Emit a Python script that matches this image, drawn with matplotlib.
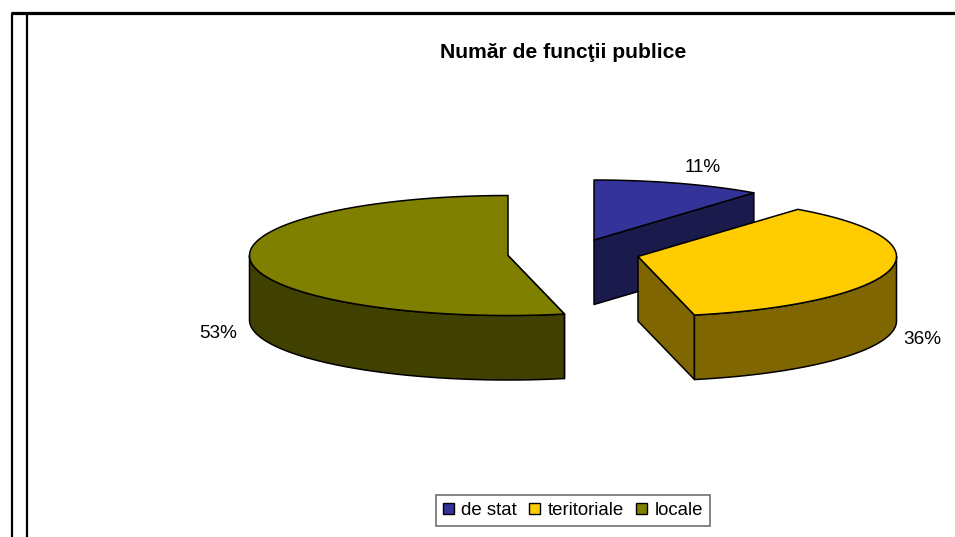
#!/usr/bin/env python3
"""Exploded 3D-look pie: number of public offices by category."""

import matplotlib
matplotlib.use('Agg')
import matplotlib.pyplot as plt
from matplotlib.patches import Patch, Polygon
import numpy as np

plt.rcParams['font.family'] = ['Liberation Sans', 'DejaVu Sans']

title = 'Număr de funcţii publice'
categories = ['de stat', 'teritoriale', 'locale']
values = [10.6, 35.85, 53.45]

top_colors = ['#333399', '#FFCC00', '#808000']
side_colors = ['#1A1A4D', '#806600', '#404000']

# layout, all in image pixels
centers = [(594, 240), (638, 256.5), (508, 255.5)]
label_pos = [(703, 167), (922, 339), (218, 333)]
RX, RY, DEPTH = 258.5, 60, 64.5
LW = 1.1

fig = plt.figure(figsize=(9.55, 5.37), dpi=100)
ax = fig.add_axes([0, 0, 1, 1])
ax.set_xlim(0, 955)
ax.set_ylim(537, 0)
ax.axis('off')


def arc(cx, cy, a0, a1):
    """Points on the rim, angles in degrees clockwise from 12 o'clock."""
    t = np.radians(np.linspace(a0, a1, 120))
    return np.column_stack([cx + RX * np.sin(t), cy - RY * np.cos(t)])


def draw_face(pts, color, z):
    ax.add_patch(Polygon(pts, closed=True, facecolor=color, edgecolor='black',
                         lw=LW, joinstyle='round', zorder=z))


# page frame
ax.plot([12, 12], [537, 12.5], color='black', lw=1.6, solid_capstyle='butt', zorder=1)
ax.plot([26.7, 26.7], [537, 12.5], color='black', lw=1.6, solid_capstyle='butt', zorder=1)
ax.plot([11, 955], [12.5, 12.5], color='black', lw=2.3, solid_capstyle='butt', zorder=1)

shares = np.array(values) / sum(values) * 360
ends = np.cumsum(shares)
starts = ends - shares
# painter's order: back slice first
order = [0, 2, 1]
for n, i in enumerate(order):
    cx, cy = centers[i]
    a0, a1 = starts[i], ends[i]
    z = 2 + n * 3
    rim = arc(cx, cy, a0, a1)
    down = np.array([0, DEPTH])

    # cut face at the end of the slice, seen only when it turns to the viewer
    if a0 < 180 and a1 < 180:
        edge = np.array([(cx, cy), rim[-1], rim[-1] + down, (cx, cy + DEPTH)])
        draw_face(edge, side_colors[i], z)
    # cut face at the start of the slice
    if 90 < a0 < 180:
        edge = np.array([(cx, cy), rim[0], rim[0] + down, (cx, cy + DEPTH)])
        draw_face(edge, side_colors[i], z)
    # outer wall, front half of the rim only
    lo, hi = max(a0, 90), min(a1, 270)
    if hi > lo:
        wall = arc(cx, cy, lo, hi)
        draw_face(np.vstack([wall, wall[::-1] + down]), side_colors[i], z + 1)
    draw_face(np.vstack([[(cx, cy)], rim]), top_colors[i], z + 2)

    ax.text(*label_pos[i], f'{values[i]:.0f}%', fontsize=13.6, ha='center',
            va='center', color='black', zorder=20)

ax.text(563, 52, title, fontsize=15.2, fontweight='bold', ha='center', va='center',
        color='black', zorder=20)

handles = [Patch(facecolor=c, edgecolor='black', lw=1.0) for c in top_colors]
leg = ax.legend(handles, categories, ncol=3, loc='center', fontsize=13.4,
                bbox_to_anchor=(573 / 955, 1 - 510.5 / 537), frameon=True,
                fancybox=False, framealpha=1, edgecolor='#707070',
                handlelength=0.6, handleheight=0.6, handletextpad=0.4,
                columnspacing=0.65, borderpad=0.38, borderaxespad=0)
leg.get_frame().set_linewidth(1.2)
leg.set_zorder(20)

fig.savefig('out.png', dpi=100)
print('Saved out.png')
